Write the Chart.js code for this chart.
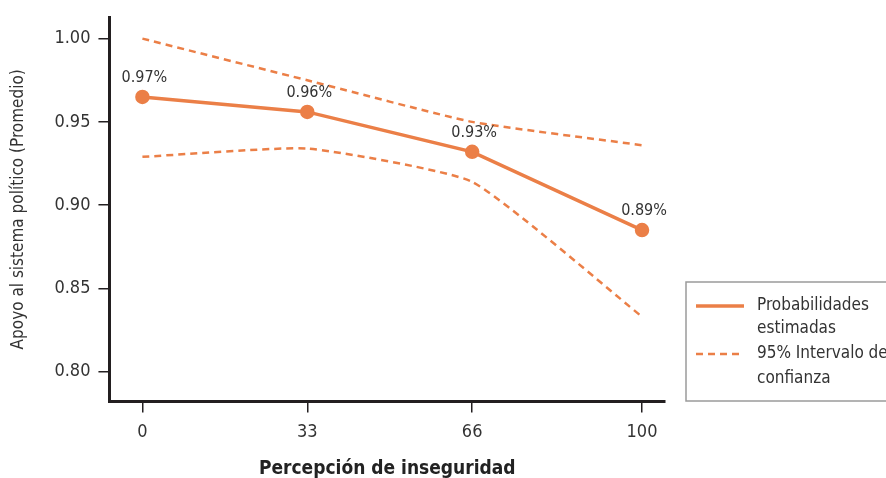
<!DOCTYPE html>
<html>
<head>
<meta charset="utf-8">
<script src="https://cdn.jsdelivr.net/npm/chart.js@4/dist/chart.umd.min.js"></script>
<style>
    html, body { margin: 0; padding: 0; background: #fff; }
    #wrap { position: relative; width: 886px; height: 478px; }
</style>
</head>
<body>
<div id="wrap"><canvas id="chart" width="886" height="478"></canvas></div>
<script>
// Data
const inseguridad = [0, 33, 66, 100];
const probabilidades = [0.965, 0.956, 0.932, 0.885];
const intervaloSup = [1.000, 0.975, 0.950, 0.936];
const intervaloInf = [0.929, 0.934, 0.914, 0.833];
const etiquetas = ['0.97%', '0.96%', '0.93%', '0.89%'];
const yTicks = [0.80, 0.85, 0.90, 0.95, 1.00];

const FONT = '"Liberation Sans Narrow", "DejaVu Sans Condensed", "Arial Narrow", sans-serif';
const ORANGE = '#EB7F47';
const AXIS = '#231F20';
const TEXT = '#333333';

function toPoints(values) {
    return values.map((v, i) => ({ x: inseguridad[i], y: v }));
}

// Value labels above the main line
const labelPlugin = {
    id: 'labels',
    afterDatasetsDraw(chart) {
        const ctx = chart.ctx;
        const meta = chart.getDatasetMeta(0);
        ctx.save();
        ctx.font = '16px ' + FONT;
        ctx.fillStyle = TEXT;
        ctx.textAlign = 'center';
        ctx.textBaseline = 'middle';
        meta.data.forEach((pt, i) => {
            ctx.fillText(etiquetas[i], pt.x + 2, pt.y - 19);
        });
        ctx.restore();
    }
};

// Boxed legend on the right
const legendPlugin = {
    id: 'boxLegend',
    afterDraw(chart) {
        const ctx = chart.ctx;
        const x = 686, y = 282;
        ctx.save();
        ctx.strokeStyle = '#9A9A9A';
        ctx.lineWidth = 1.5;
        ctx.strokeRect(x, y, 230, 119);

        ctx.strokeStyle = ORANGE;
        ctx.lineWidth = 3.5;
        ctx.beginPath();
        ctx.moveTo(696, 306);
        ctx.lineTo(744, 306);
        ctx.stroke();

        ctx.lineWidth = 2.5;
        ctx.setLineDash([7, 5]);
        ctx.beginPath();
        ctx.moveTo(696, 354);
        ctx.lineTo(744, 354);
        ctx.stroke();
        ctx.setLineDash([]);

        ctx.font = '17px ' + FONT;
        ctx.fillStyle = TEXT;
        ctx.textAlign = 'left';
        ctx.textBaseline = 'middle';
        ctx.fillText('Probabilidades', 757, 306);
        ctx.fillText('estimadas', 757, 329);
        ctx.fillText('95% Intervalo de', 757, 354);
        ctx.fillText('confianza', 757, 379);
        ctx.restore();
    }
};

const ctx = document.getElementById('chart').getContext('2d');
new Chart(ctx, {
    type: 'line',
    data: {
        datasets: [
            {
                label: 'Probabilidades estimadas',
                data: toPoints(probabilidades),
                borderColor: ORANGE,
                backgroundColor: ORANGE,
                borderWidth: 3.5,
                pointRadius: 5.5,
                pointHoverRadius: 5.5,
                tension: 0
            },
            {
                label: '95% Intervalo de confianza (sup)',
                data: toPoints(intervaloSup),
                borderColor: ORANGE,
                borderWidth: 2.5,
                borderDash: [7, 5],
                pointRadius: 0,
                tension: 0.15
            },
            {
                label: '95% Intervalo de confianza (inf)',
                data: toPoints(intervaloInf),
                borderColor: ORANGE,
                borderWidth: 2.5,
                borderDash: [7, 5],
                pointRadius: 0,
                tension: 0.15
            }
        ]
    },
    options: {
        responsive: false,
        animation: false,
        layout: { padding: { top: 7, right: 221, left: 4, bottom: -2 } },
        plugins: {
            legend: { display: false },
            tooltip: { enabled: false }
        },
        scales: {
            x: {
                type: 'linear',
                min: -6.6,
                max: 104.6,
                afterBuildTicks(axis) {
                    axis.ticks = inseguridad.map(v => ({ value: v }));
                },
                border: { color: AXIS, width: 3 },
                grid: { drawOnChartArea: false, color: AXIS, tickLength: 11, lineWidth: 1.5 },
                ticks: {
                    color: TEXT,
                    font: { family: FONT, size: 18 },
                    padding: 9
                },
                title: {
                    display: true,
                    text: 'Percepción de inseguridad',
                    color: '#222',
                    font: { family: FONT, size: 19, weight: 'bold' },
                    padding: { top: 5, bottom: 0 }
                }
            },
            y: {
                min: 0.782,
                max: 1.013,
                afterBuildTicks(axis) {
                    axis.ticks = yTicks.map(v => ({ value: v }));
                },
                border: { color: AXIS, width: 3 },
                grid: { drawOnChartArea: false, color: AXIS, tickLength: 11, lineWidth: 1.5 },
                ticks: {
                    color: TEXT,
                    font: { family: FONT, size: 18, lineHeight: 1 },
                    padding: 8,
                    callback: v => v.toFixed(2)
                },
                title: {
                    display: true,
                    text: 'Apoyo al sistema político (Promedio)',
                    color: TEXT,
                    font: { family: FONT, size: 17 },
                    padding: { bottom: 18 }
                }
            }
        }
    },
    plugins: [labelPlugin, legendPlugin]
});
</script>
</body>
</html>
